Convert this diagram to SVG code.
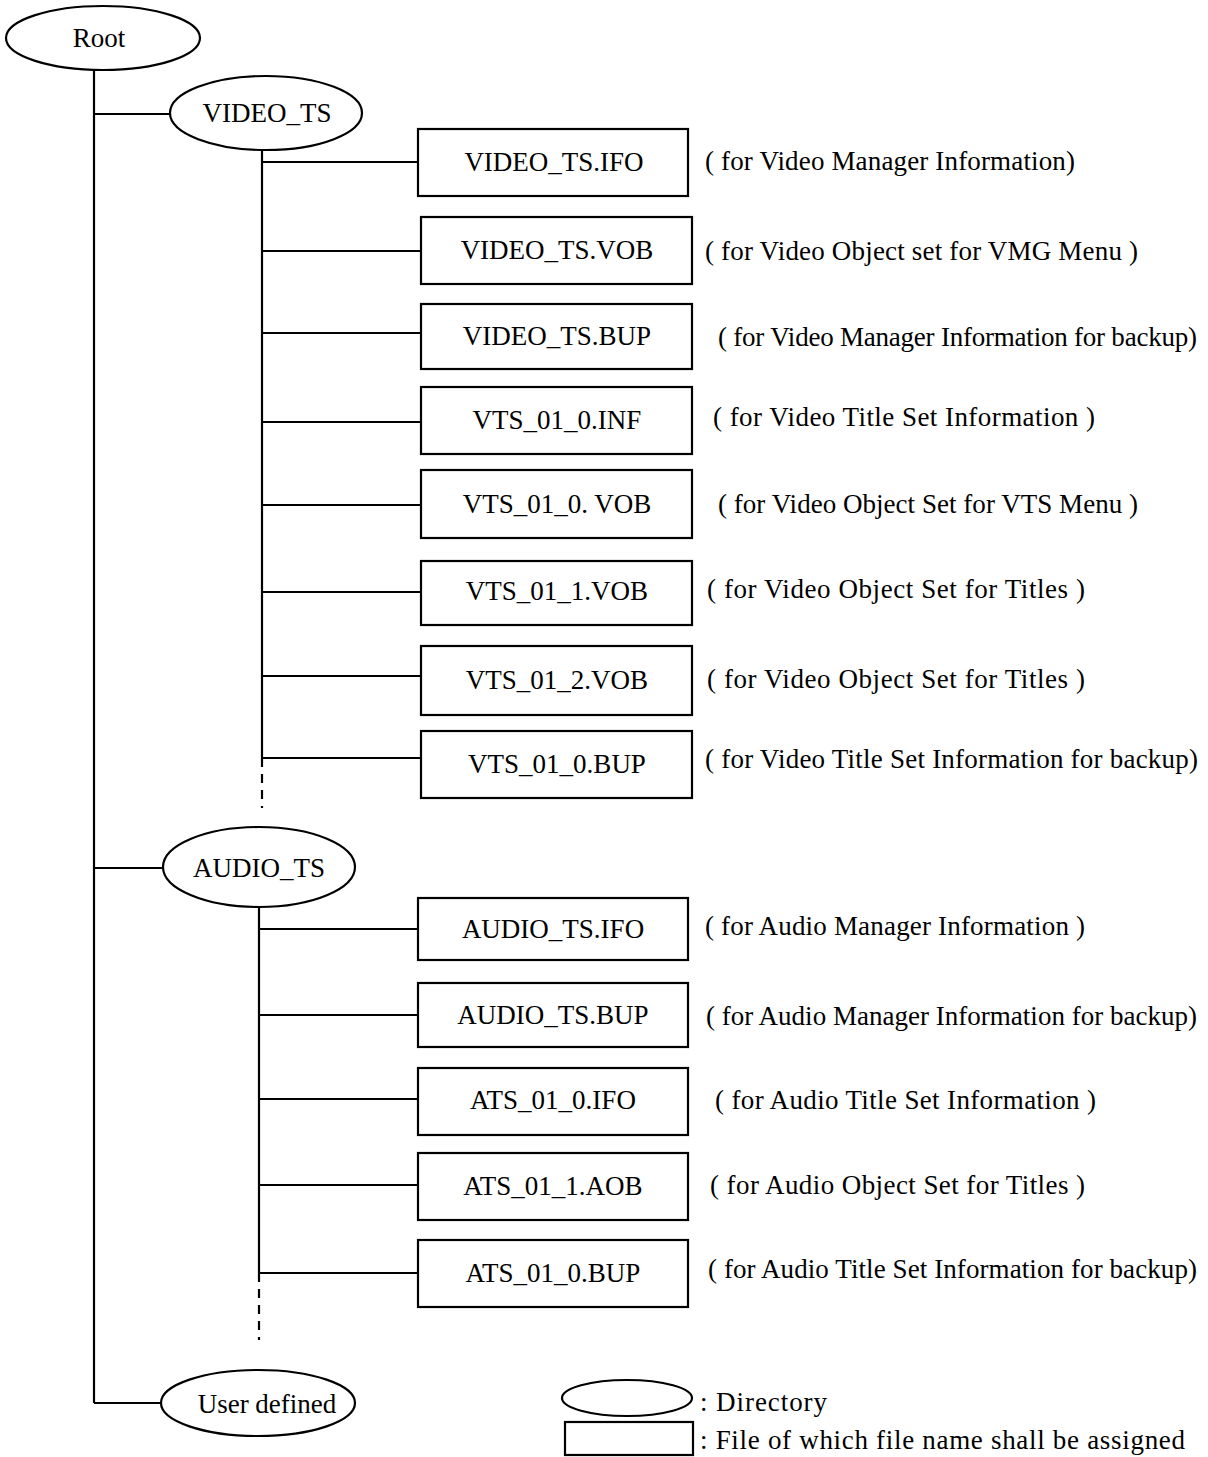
<svg xmlns="http://www.w3.org/2000/svg" width="1208" height="1457" viewBox="0 0 1208 1457">
<style>
.n{fill:#fff;stroke:#000;stroke-width:2.2}
.c{fill:none;stroke:#000;stroke-width:2.2}
.d{fill:none;stroke:#000;stroke-width:2.2;stroke-dasharray:9 7}
text{font-family:"Liberation Serif","Times New Roman",serif;font-size:27px;fill:#000}
.m{text-anchor:middle}
</style>
<rect width="1208" height="1457" fill="#fff"/>
<g id="connectors">
<path class="c" d="M94 70V1403M94 114H170M94 868H163M94 1403H161"/>
<path class="c" d="M262 150V758M262 162H418M262 251H421M262 333H421M262 422H421M262 505H421M262 592H421M262 676H421M262 758H421"/>
<path class="d" d="M262 758V808"/>
<path class="c" d="M259 907V1273M259 929H418M259 1015H418M259 1099H418M259 1185H418M259 1273H418"/>
<path class="d" d="M259 1273V1340"/>
</g>
<g id="root"><ellipse class="n" cx="103" cy="38" rx="97" ry="32"/><text class="m" x="99" y="47">Root</text></g>
<g id="video_ts"><ellipse class="n" cx="266" cy="113" rx="96" ry="37"/><text class="m" x="267" y="122">VIDEO_TS</text></g>
<g id="audio_ts"><ellipse class="n" cx="259" cy="867" rx="96" ry="40"/><text class="m" x="259" y="877">AUDIO_TS</text></g>
<g id="user_defined"><ellipse class="n" cx="258" cy="1403" rx="97" ry="33"/><text class="m" x="267" y="1413">User defined</text></g>

<g id="video_ts_ifo"><rect class="n" x="418" y="129" width="270" height="67"/><text class="m" x="554" y="171">VIDEO_TS.IFO</text><text x="705" y="170" textLength="370">( for Video Manager  Information)</text></g>
<g id="video_ts_vob"><rect class="n" x="421" y="217" width="271" height="67"/><text class="m" x="557" y="259">VIDEO_TS.VOB</text><text x="705" y="260" textLength="433">( for Video Object  set  for VMG Menu )</text></g>
<g id="video_ts_bup"><rect class="n" x="421" y="304" width="271" height="65"/><text class="m" x="557" y="345">VIDEO_TS.BUP</text><text x="718" y="346" textLength="479">( for Video Manager  Information for backup)</text></g>
<g id="vts_01_0_inf"><rect class="n" x="421" y="387" width="271" height="67"/><text class="m" x="557" y="429">VTS_01_0.INF</text><text x="713" y="426" textLength="382">( for Video Title  Set  Information )</text></g>
<g id="vts_01_0_vob"><rect class="n" x="421" y="470" width="271" height="68"/><text class="m" x="557" y="513">VTS_01_0. VOB</text><text x="718" y="513" textLength="420">( for Video Object  Set  for VTS Menu )</text></g>
<g id="vts_01_1_vob"><rect class="n" x="421" y="561" width="271" height="64"/><text class="m" x="557" y="600">VTS_01_1.VOB</text><text x="707" y="598" textLength="378">( for Video Object  Set  for Titles )</text></g>
<g id="vts_01_2_vob"><rect class="n" x="421" y="646" width="271" height="69"/><text class="m" x="557" y="689">VTS_01_2.VOB</text><text x="707" y="688" textLength="378">( for Video Object  Set  for Titles )</text></g>
<g id="vts_01_0_bup"><rect class="n" x="421" y="731" width="271" height="67"/><text class="m" x="557" y="773">VTS_01_0.BUP</text><text x="705" y="768" textLength="493">( for Video Title  Set  Information for backup)</text></g>

<g id="audio_ts_ifo"><rect class="n" x="418" y="898" width="270" height="62"/><text class="m" x="553" y="938">AUDIO_TS.IFO</text><text x="705" y="935" textLength="380">( for Audio Manager  Information )</text></g>
<g id="audio_ts_bup"><rect class="n" x="418" y="983" width="270" height="64"/><text class="m" x="553" y="1024">AUDIO_TS.BUP</text><text x="706" y="1025" textLength="491">( for Audio Manager  Information for backup)</text></g>
<g id="ats_01_0_ifo"><rect class="n" x="418" y="1068" width="270" height="67"/><text class="m" x="553" y="1109">ATS_01_0.IFO</text><text x="715" y="1109" textLength="381">( for Audio Title  Set  Information )</text></g>
<g id="ats_01_1_aob"><rect class="n" x="418" y="1153" width="270" height="67"/><text class="m" x="553" y="1195">ATS_01_1.AOB</text><text x="710" y="1194" textLength="375">( for Audio Object  Set  for Titles )</text></g>
<g id="ats_01_0_bup"><rect class="n" x="418" y="1240" width="270" height="67"/><text class="m" x="553" y="1282">ATS_01_0.BUP</text><text x="708" y="1278" textLength="489">( for Audio Title  Set  Information for backup)</text></g>

<g id="legend">
<ellipse class="n" cx="627" cy="1398" rx="65" ry="18"/>
<rect class="n" x="565" y="1422" width="128" height="33"/>
<text x="700" y="1411" textLength="127">: Directory</text>
<text x="700" y="1449" textLength="485">: File of which  file  name  shall  be  assigned</text>
</g>
</svg>
